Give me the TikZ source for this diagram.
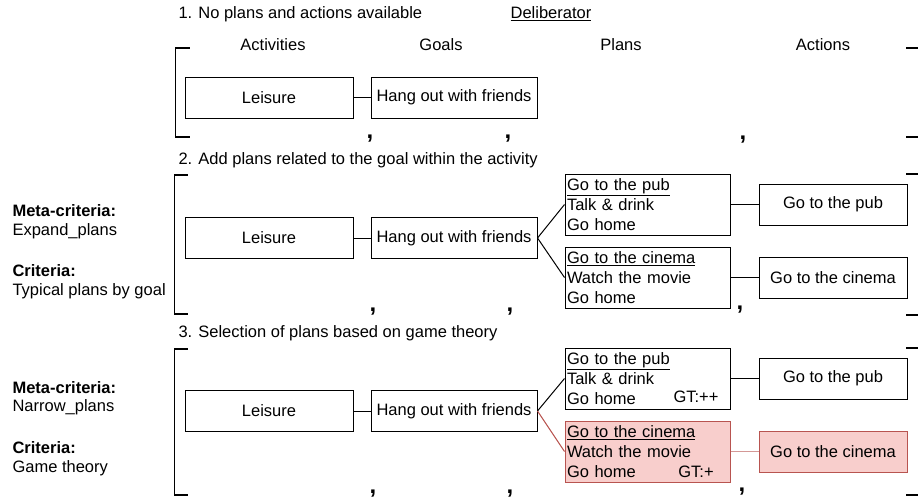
\documentclass[tikz,border=0pt]{standalone}
\usepackage{fontspec}
\setmainfont{Liberation Sans}
\usetikzlibrary{positioning}
\definecolor{pickfill}{HTML}{F8CECC}
\definecolor{pickline}{HTML}{B85450}
\tikzset{
  box/.style={
      draw,
      line width=1pt,
      minimum height=41pt,
      inner sep=2pt
      },
  actbox/.style={box, minimum width=168pt},
  goalbox/.style={box, minimum width=166pt},
  planbox/.style={
      box,
      minimum height=61pt,
      text width=161pt,
      align=left,
      font=\fontsize{16.5}{20}\selectfont
      },
  dobox/.style={box, minimum width=148pt},
  picked/.style={draw=pickline, fill=pickfill},
  link/.style={line width=1pt},
  tick/.style={line width=2pt},
  comma/.style={font=\fontsize{24}{24}\selectfont\bfseries}
}

\begin{document}
\begin{tikzpicture}[x=1pt,y=-1pt,font=\fontsize{16.5}{20}\selectfont]
\useasboundingbox (0,0) rectangle (918,499);

% 1. headers
\node[anchor=west] (title1) at (175,14) {1. No plans and actions available};
\node (delib) at (551,14) {\underline{Deliberator}};
\node (hact) at (273,45) {Activities};
\node (hgoal) at (441,45) {Goals};
\node (hplan) at (621,45) {Plans};
\node (hdo) at (823,45) {Actions};

\draw[link] (175,48) -- (175,137);
\draw[tick] (175,48) -- (190,48);
\draw[tick] (175,137) -- (190,137);
\draw[tick] (906,48) -- (918,48);
\draw[tick] (906,137) -- (918,137);

\node[actbox] (leis1) at (269,97.5) {Leisure};
\node[goalbox] (hang1) at (454,97.5) {Hang out with friends};
\draw[link] (leis1) -- (hang1);

\node[comma] (c1a) at (370,139) {,};
\node[comma] (c1b) at (508,139) {,};
\node[comma] (c1c) at (743,140) {,};

% 2. expand
\node[anchor=west] (title2) at (175,160) {2. Add plans related to the goal within the activity};
\node[anchor=west] (meta2) at (9,211) {\textbf{Meta-criteria:}};
\node[anchor=west] (metav2) at (9,231) {Expand\_plans};
\node[anchor=west] (crit2) at (9,271) {\textbf{Criteria:}};
\node[anchor=west] (critv2) at (9,291) {Typical plans by goal};

\draw[link] (174,175) -- (174,314);
\draw[tick] (174,175) -- (188,175);
\draw[tick] (174,314) -- (188,314);
\draw[tick] (906,174) -- (918,174);
\draw[tick] (906,315) -- (918,315);

\node[actbox] (leis2) at (269,238) {Leisure};
\node[goalbox] (hang2) at (454,238) {Hang out with friends};
\node[planbox] (pub2) at (647.5,204.5) {\underline{Go to the pub}\\Talk \& drink\\Go home};
\node[planbox] (cin2) at (647.5,277.5) {\underline{Go to the cinema}\\Watch the movie\\Go home};
\node[dobox] (dpub2) at (833,204.5) {Go to the pub};
\node[dobox] (dcin2) at (833,277.5) {Go to the cinema};
\draw[link] (leis2) -- (hang2);
\draw[link] (hang2.east) -- (pub2.west);
\draw[link] (hang2.east) -- (cin2.west);
\draw[link] (pub2.east) -- (dpub2.west);
\draw[link] (cin2.east) -- (dcin2.west);

\node[comma] (c2a) at (373,312) {,};
\node[comma] (c2b) at (510,312) {,};
\node[comma] (c2c) at (740,310) {,};

% 3. narrow
\node[anchor=west] (title3) at (175,333) {3. Selection of plans based on game theory};
\node[anchor=west] (meta3) at (9,388) {\textbf{Meta-criteria:}};
\node[anchor=west] (metav3) at (9,407) {Narrow\_plans};
\node[anchor=west] (crit3) at (9,448) {\textbf{Criteria:}};
\node[anchor=west] (critv3) at (9,468) {Game theory};

\draw[link] (174,349) -- (174,495);
\draw[tick] (174,349) -- (188,349);
\draw[tick] (174,495) -- (188,495);
\draw[tick] (906,348) -- (918,348);
\draw[tick] (906,495) -- (918,495);

\node[actbox] (leis3) at (269,411) {Leisure};
\node[goalbox] (hang3) at (454,411) {Hang out with friends};
\node[planbox] (pub3) at (647.5,378.5) {\underline{Go to the pub}\\Talk \& drink\\Go home};
\node[planbox, picked] (cin3) at (647.5,451.5) {\underline{Go to the cinema}\\Watch the movie\\Go home};
\node[dobox] (dpub3) at (833,378.5) {Go to the pub};
\node[dobox, picked] (dcin3) at (833,451.5) {Go to the cinema};
\node (gt3a) at (696,397) {GT:++};
\node (gt3b) at (696,472) {GT:+};
\draw[link] (leis3) -- (hang3);
\draw[link] (hang3.east) -- (pub3.west);
\draw[link, pickline] (hang3.east) -- (cin3.west);
\draw[link] (pub3.east) -- (dpub3.west);
\draw[link, pickline!60] (cin3.east) -- (dcin3.west);

\node[comma] (c3a) at (373,494) {,};
\node[comma] (c3b) at (510,494) {,};
\node[comma] (c3c) at (742,492) {,};
\end{tikzpicture}
\end{document}
